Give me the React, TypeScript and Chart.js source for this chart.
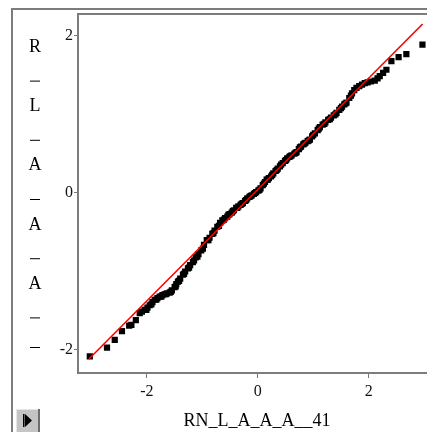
import React, { useEffect, useRef } from "react";
import { Chart, registerables } from "chart.js";

Chart.register(...registerables);

// Theoretical normal quantiles (x) and sample quantiles (y)
const theoretical = [
  -3.03, -2.72, -2.58, -2.45, -2.32, -2.28, -2.2, -2.13, -2.09, -2.04, -2.01, -1.99, -1.95, -1.92,
  -1.9, -1.86, -1.83, -1.81, -1.77, -1.74, -1.72, -1.68, -1.66, -1.64, -1.59, -1.57, -1.55, -1.5,
  -1.48, -1.47, -1.44, -1.42, -1.4, -1.35, -1.33, -1.31, -1.26, -1.24, -1.22, -1.17, -1.15, -1.12,
  -1.09, -1.07, -1.02, -0.99, -0.97, -0.92, -0.89, -0.87, -0.82, -0.8, -0.78, -0.73, -0.7, -0.68,
  -0.64, -0.61, -0.59, -0.55, -0.53, -0.51, -0.47, -0.45, -0.43, -0.39, -0.37, -0.35, -0.31, -0.29,
  -0.27, -0.23, -0.21, -0.19, -0.15, -0.13, -0.11, -0.07, -0.05, -0.03, 0.01, 0.03, 0.05, 0.09,
  0.11, 0.13, 0.16, 0.18, 0.2, 0.24, 0.26, 0.28, 0.32, 0.34, 0.36, 0.4, 0.42, 0.45, 0.49, 0.51,
  0.53, 0.57, 0.59, 0.61, 0.66, 0.68, 0.7, 0.74, 0.76, 0.78, 0.82, 0.84, 0.86, 0.9, 0.92, 0.94,
  0.98, 1.0, 1.03, 1.08, 1.1, 1.12, 1.17, 1.2, 1.22, 1.27, 1.3, 1.32, 1.37, 1.4, 1.42, 1.47, 1.5,
  1.52, 1.56, 1.58, 1.6, 1.65, 1.68, 1.7, 1.74, 1.78, 1.83, 1.88, 1.93, 1.98, 2.04, 2.11, 2.16,
  2.2, 2.26, 2.32, 2.41, 2.54, 2.68, 2.97,
];
const sample = [
  -2.08, -1.97, -1.87, -1.76, -1.69, -1.68, -1.62, -1.53, -1.51, -1.49, -1.49, -1.46, -1.43, -1.42,
  -1.39, -1.36, -1.36, -1.34, -1.32, -1.32, -1.3, -1.29, -1.29, -1.28, -1.27, -1.26, -1.24, -1.2,
  -1.19, -1.16, -1.13, -1.12, -1.09, -1.04, -1.03, -1.0, -0.96, -0.95, -0.92, -0.88, -0.86, -0.82,
  -0.81, -0.78, -0.73, -0.71, -0.66, -0.6, -0.6, -0.57, -0.52, -0.51, -0.48, -0.43, -0.42, -0.38,
  -0.35, -0.34, -0.32, -0.3, -0.28, -0.27, -0.25, -0.23, -0.22, -0.19, -0.19, -0.17, -0.15, -0.14,
  -0.13, -0.1, -0.09, -0.07, -0.05, -0.04, -0.03, -0.01, 0.0, 0.01, 0.03, 0.04, 0.06, 0.1, 0.12,
  0.14, 0.17, 0.17, 0.19, 0.21, 0.23, 0.25, 0.28, 0.29, 0.31, 0.34, 0.36, 0.38, 0.41, 0.42, 0.44,
  0.46, 0.47, 0.48, 0.5, 0.51, 0.52, 0.56, 0.58, 0.59, 0.62, 0.63, 0.64, 0.66, 0.67, 0.68, 0.72,
  0.74, 0.76, 0.8, 0.82, 0.84, 0.87, 0.88, 0.9, 0.93, 0.94, 0.96, 0.99, 1.0, 1.02, 1.06, 1.08,
  1.1, 1.13, 1.14, 1.15, 1.21, 1.24, 1.27, 1.31, 1.34, 1.36, 1.38, 1.4, 1.41, 1.42, 1.43, 1.46,
  1.49, 1.53, 1.57, 1.68, 1.73, 1.77, 1.89,
];
// Reference line end points
const refLineX = [-3.045, 2.973];
const refLineY = [-2.115, 2.153];

const xTicks = [-2, 0, 2];
const yTicks = [-2, 0, 2];
const xTitle = "RN_L_A_A_A__41";
const yTitle = "R_L_A_A_A__";

const SERIF = "'Liberation Serif', 'Times New Roman', serif";

export default function App() {
  const ref = useRef<HTMLCanvasElement>(null);

  useEffect(() => {
    if (!ref.current) return;

    const decor = {
      id: "decor",
      beforeDraw(chart: any) {
        const ctx = chart.ctx;
        ctx.save();
        ctx.fillStyle = "#ffffff";
        ctx.fillRect(0, 0, chart.width, chart.height);
        ctx.restore();
      },
      afterDraw(chart: any) {
        const ctx = chart.ctx;
        const a = chart.chartArea;
        ctx.save();
        // outer frame
        ctx.strokeStyle = "#7c7c7c";
        ctx.lineWidth = 2;
        ctx.beginPath();
        ctx.moveTo(12, 440);
        ctx.lineTo(12, 9);
        ctx.lineTo(460, 9);
        ctx.stroke();
        // plot frame top
        ctx.beginPath();
        ctx.moveTo(a.left, a.top);
        ctx.lineTo(a.right + 10, a.top);
        ctx.stroke();

        // y title, stacked characters
        ctx.fillStyle = "#000";
        ctx.font = `18px ${SERIF}`;
        ctx.textAlign = "center";
        ctx.textBaseline = "alphabetic";
        const chars = yTitle.split("");
        chars.forEach((c, i) => {
          const yb = 52 + i * 29.6;
          if (c === "_") {
            ctx.fillRect(30, yb - 1, 10, 1);
          } else {
            ctx.fillText(c, 35, yb);
          }
        });

        // x title
        ctx.fillText(xTitle, 257, 426);

        // button
        ctx.fillStyle = "#c4c4c4";
        ctx.fillRect(16, 409, 24, 24);
        ctx.fillStyle = "#e6e6e6";
        ctx.fillRect(16, 409, 24, 1);
        ctx.fillRect(16, 409, 1, 24);
        ctx.fillStyle = "#6e6e6e";
        ctx.fillRect(38, 409, 2, 24);
        ctx.fillStyle = "#000";
        ctx.fillRect(23, 414, 1.5, 13);
        ctx.beginPath();
        ctx.moveTo(25, 414);
        ctx.lineTo(32, 420.5);
        ctx.lineTo(25, 427);
        ctx.closePath();
        ctx.fill();
        ctx.restore();
      },
    };

    const chart = new Chart(ref.current, {
      type: "scatter",
      data: {
        datasets: [
          {
            type: "scatter",
            data: theoretical.map((x, i) => ({ x, y: sample[i] })),
            pointStyle: "rect",
            pointRadius: 4.4,
            backgroundColor: "#000",
            borderWidth: 0,
            order: 2,
          },
          {
            type: "line",
            data: refLineX.map((x, i) => ({ x, y: refLineY[i] })),
            borderColor: "#ff0000",
            borderWidth: 1.6,
            pointRadius: 0,
            showLine: true,
            fill: false,
            order: 1,
          } as any,
        ],
      },
      options: {
        animation: false,
        responsive: false,
        maintainAspectRatio: false,
        layout: { padding: { top: 14, left: 0, right: 0, bottom: 0 } },
        plugins: { legend: { display: false }, tooltip: { enabled: false } },
        scales: {
          x: {
            type: "linear",
            min: -3.243,
            max: 3.045,
            afterBuildTicks: (s: any) => {
              s.ticks = xTicks.map((v) => ({ value: v }));
            },
            afterFit: (s: any) => {
              s.height = 59;
            },
            grid: { display: true, drawOnChartArea: false, drawTicks: true, tickLength: 5, color: "#777" },
            border: { display: true, color: "#7c7c7c", width: 2 },
            ticks: {
              autoSkip: false,
              maxRotation: 0,
              padding: 4,
              color: "#111",
              font: { family: SERIF, size: 16 },
            },
          },
          y: {
            type: "linear",
            min: -2.293,
            max: 2.28,
            afterBuildTicks: (s: any) => {
              s.ticks = yTicks.map((v) => ({ value: v }));
            },
            afterFit: (s: any) => {
              s.width = 78;
            },
            grid: { display: true, drawOnChartArea: false, drawTicks: true, tickLength: 4, color: "#777" },
            border: { display: true, color: "#7c7c7c", width: 2 },
            ticks: {
              autoSkip: false,
              padding: 1,
              color: "#111",
              font: { family: SERIF, size: 16 },
            },
          },
        },
      },
      plugins: [decor],
    });

    return () => chart.destroy();
  }, []);

  return (
    <div
      style={{
        position: "fixed",
        left: 0,
        top: 0,
        width: 427,
        height: 432,
        overflow: "hidden",
        background: "#fff",
      }}
    >
      <canvas ref={ref} width={431} height={432} style={{ display: "block" }} />
    </div>
  );
}
